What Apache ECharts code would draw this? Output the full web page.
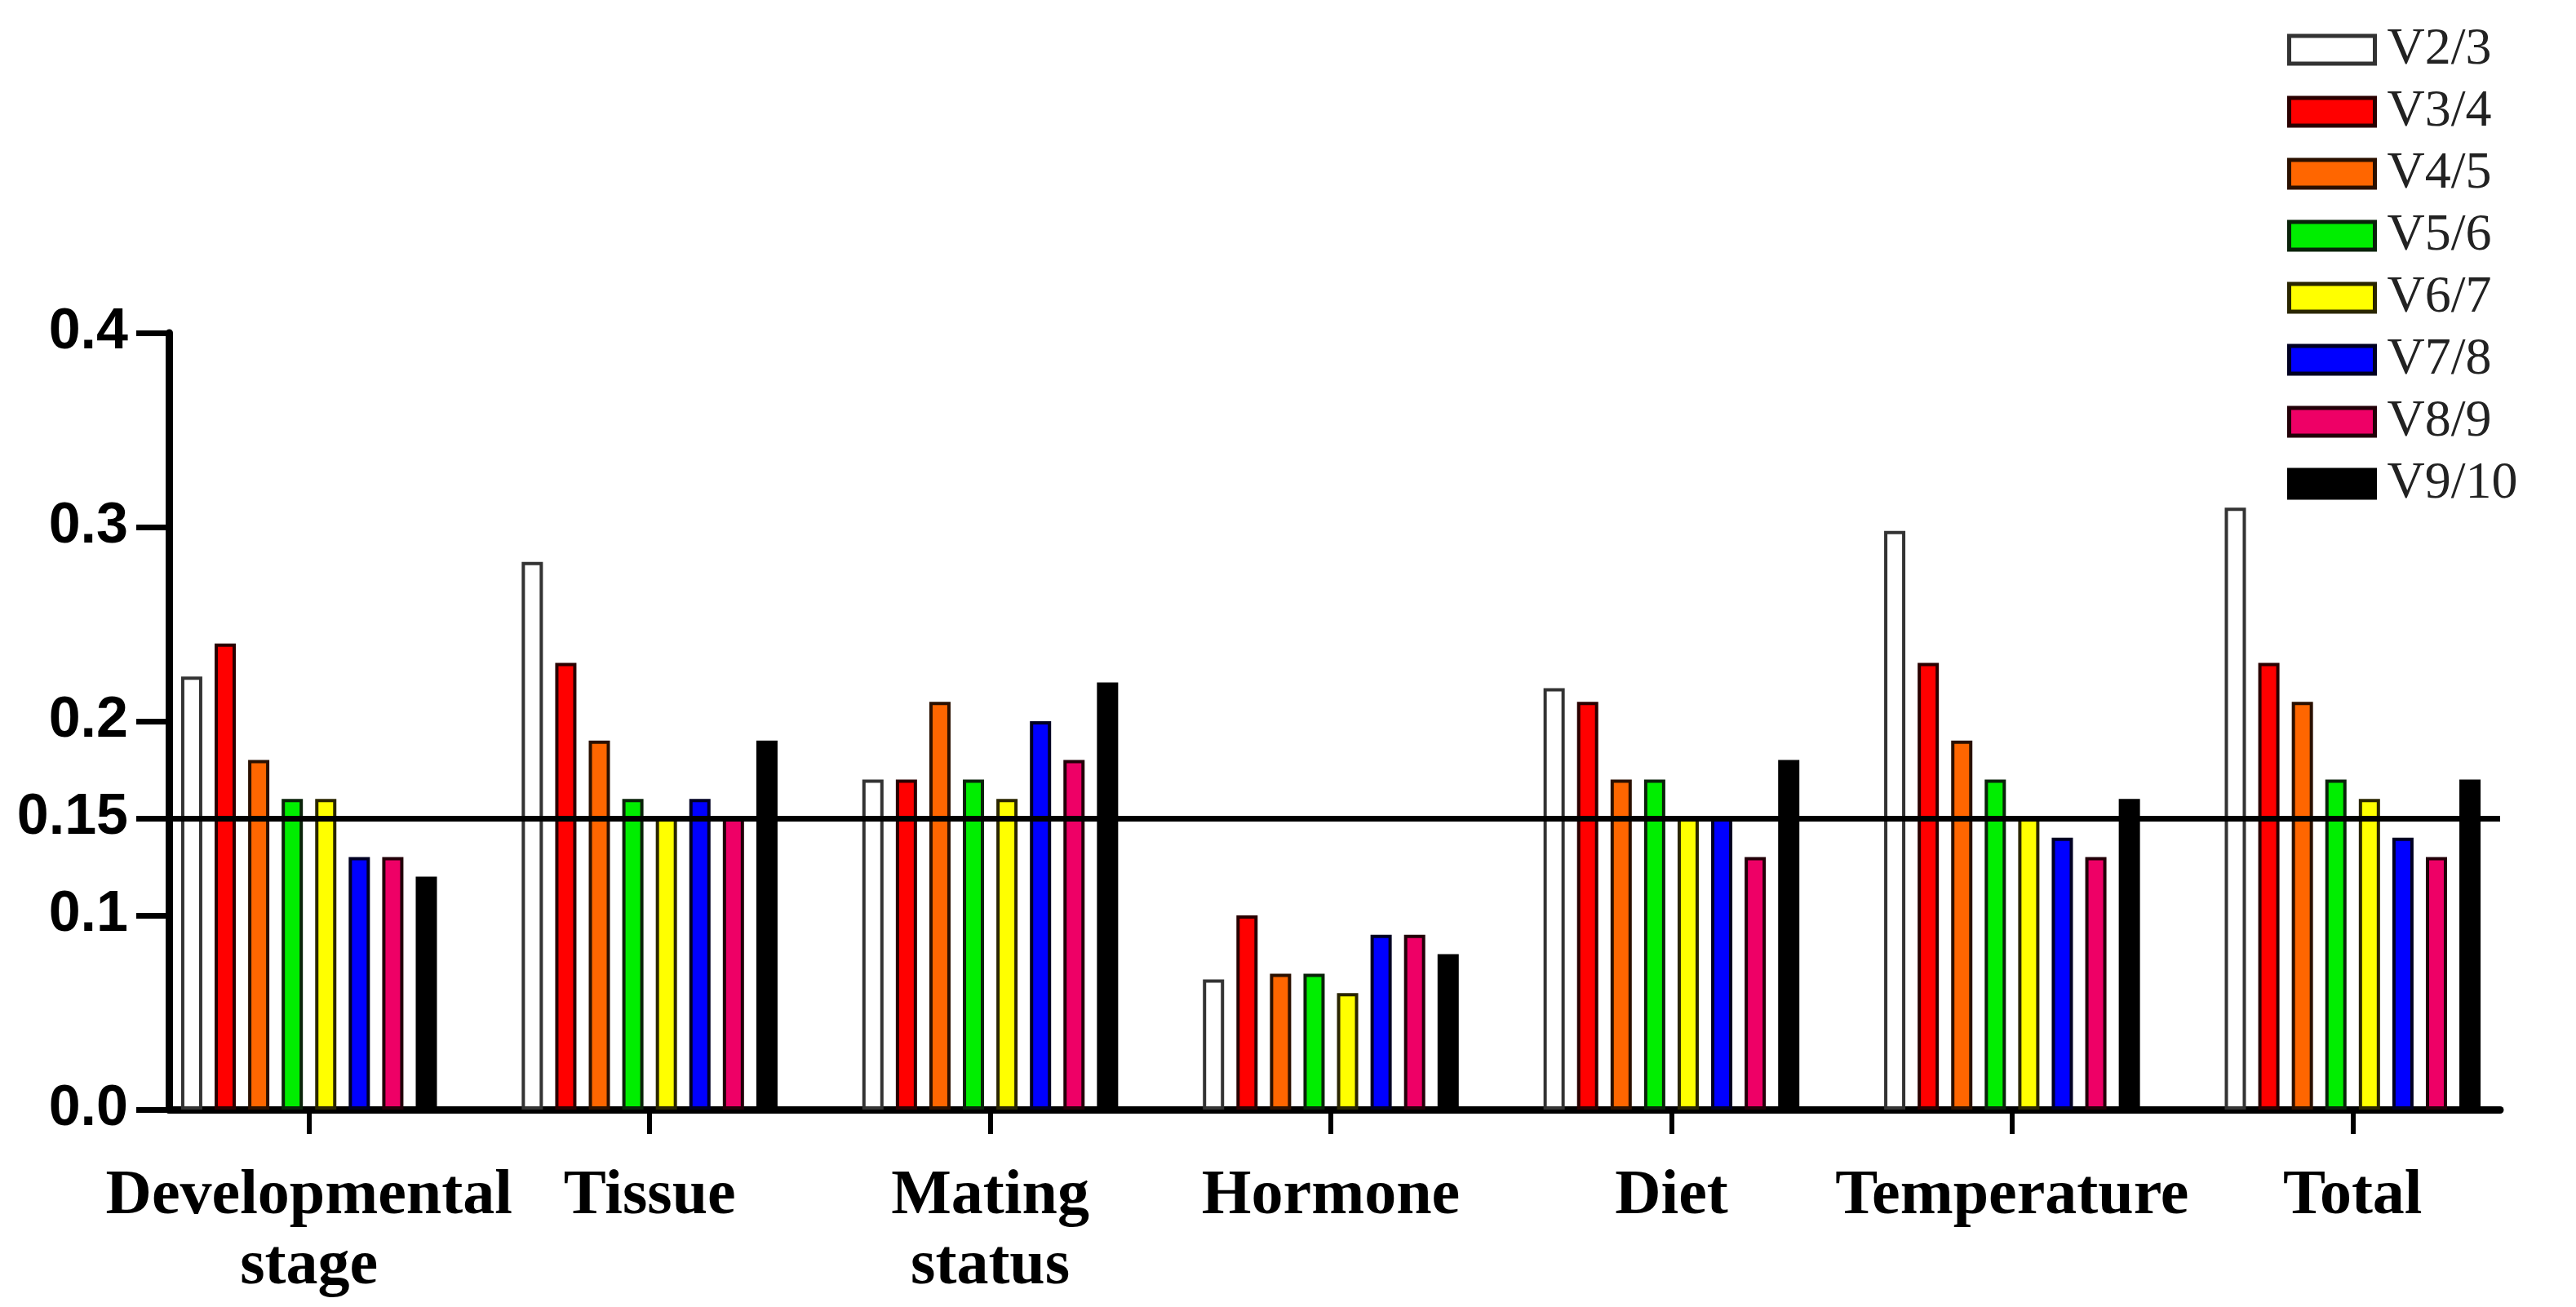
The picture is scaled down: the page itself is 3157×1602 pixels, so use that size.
<!DOCTYPE html>
<html>
<head>
<meta charset="utf-8">
<script src="https://cdn.jsdelivr.net/npm/echarts@6/dist/echarts.min.js"></script>
<style>html,body{margin:0;padding:0;background:#fff}#c{width:3157px;height:1602px}</style>
</head>
<body>
<div id="c"></div>
<script>
const categories = ['Developmental\nstage', 'Tissue', 'Mating\nstatus', 'Hormone', 'Diet', 'Temperature', 'Total'];
const seriesNames = ['V2/3', 'V3/4', 'V4/5', 'V5/6', 'V6/7', 'V7/8', 'V8/9', 'V9/10'];
const v23  = [0.223, 0.282, 0.17, 0.067, 0.217, 0.298, 0.31];
const v34  = [0.24, 0.23, 0.17, 0.10, 0.21, 0.23, 0.23];
const v45  = [0.18, 0.19, 0.21, 0.07, 0.17, 0.19, 0.21];
const v56  = [0.16, 0.16, 0.17, 0.07, 0.17, 0.17, 0.17];
const v67  = [0.16, 0.15, 0.16, 0.06, 0.15, 0.15, 0.16];
const v78  = [0.13, 0.16, 0.20, 0.09, 0.15, 0.14, 0.14];
const v89  = [0.13, 0.15, 0.18, 0.09, 0.13, 0.13, 0.13];
const v910 = [0.12, 0.19, 0.22, 0.08, 0.18, 0.16, 0.17];
const yTicks = [0, 0.1, 0.15, 0.2, 0.3, 0.4];
const yTickLabels = ['0.0', '0.1', '0.15', '0.2', '0.3', '0.4'];
const thresholdValue = 0.15;

const seriesValues = [v23, v34, v45, v56, v67, v78, v89, v910];
const colors = ['#ffffff', '#ff0000', '#ff6600', '#00ee00', '#ffff00', '#0000ff', '#ee0066', '#000000'];
const borders = ['#333333', '#2a0000', '#2a1000', '#0a220a', '#2a2600', '#000022', '#220008', '#000000'];

const chart = echarts.init(document.getElementById('c'), null, {renderer: 'canvas'});

const barSeries = seriesNames.map((name, i) => ({
  name: name,
  type: 'bar',
  xAxisIndex: 1,
  yAxisIndex: 1,
  data: seriesValues[i],
  barWidth: 26,
  barGap: '58%',
  itemStyle: {color: colors[i], borderColor: borders[i], borderWidth: 4},
  emphasis: {disabled: true},
  z: 2
}));

const option = {
  backgroundColor: '#ffffff',
  animation: false,
  legend: {
    orient: 'vertical',
    left: 2798,
    top: 24,
    itemWidth: 105,
    itemHeight: 34,
    itemGap: 12,
    icon: 'rect',
    data: seriesNames,
    itemStyle: {borderWidth: 5},
    textStyle: {fontFamily: 'Liberation Serif', fontSize: 64, color: '#222', lineHeight: 62, padding: [0, 0, 0, 10]}
  },
  grid: [
    {left: 207, right: 93, top: 408, bottom: 242},
    {left: 170, right: 65, top: 408, bottom: 242}
  ],
  xAxis: [
    {
      type: 'value', gridIndex: 0, min: 0, max: 1,
      axisLine: {show: true, lineStyle: {color: '#000', width: 9}},
      axisTick: {show: false}, axisLabel: {show: false}, splitLine: {show: false}
    },
    {
      type: 'category', gridIndex: 1, data: categories,
      axisLine: {show: false},
      axisTick: {show: true, alignWithLabel: true, length: 30, lineStyle: {color: '#000', width: 6}},
      axisLabel: {
        margin: 64, fontFamily: 'Liberation Serif', fontWeight: 'bold', fontSize: 78,
        lineHeight: 86, color: '#000', interval: 0
      },
      splitLine: {show: false}
    }
  ],
  yAxis: [
    {
      type: 'value', gridIndex: 0, min: 0, max: 0.4,
      axisLine: {show: true, lineStyle: {color: '#000', width: 9}},
      axisTick: {show: true, customValues: yTicks, length: 40, lineStyle: {color: '#000', width: 7}},
      axisLabel: {
        customValues: yTicks, margin: 50,
        fontFamily: 'Liberation Sans', fontWeight: 'bold', fontSize: 70, color: '#000',
        formatter: function (v) {
          const idx = yTicks.findIndex(t => Math.abs(t - v) < 1e-9);
          return idx >= 0 ? yTickLabels[idx] : '';
        }
      },
      splitLine: {show: false}
    },
    {
      type: 'value', gridIndex: 1, min: 0, max: 0.4, show: false, splitLine: {show: false}
    }
  ],
  series: [
    {
      type: 'line', xAxisIndex: 0, yAxisIndex: 0, data: [], silent: true, z: 10,
      markLine: {
        silent: true, symbol: 'none', label: {show: false},
        lineStyle: {color: '#000', width: 7, type: 'solid'},
        emphasis: {disabled: true},
        data: [{yAxis: thresholdValue}],
        z: 10
      }
    }
  ].concat(barSeries)
};

chart.setOption(option);
</script>
</body>
</html>
